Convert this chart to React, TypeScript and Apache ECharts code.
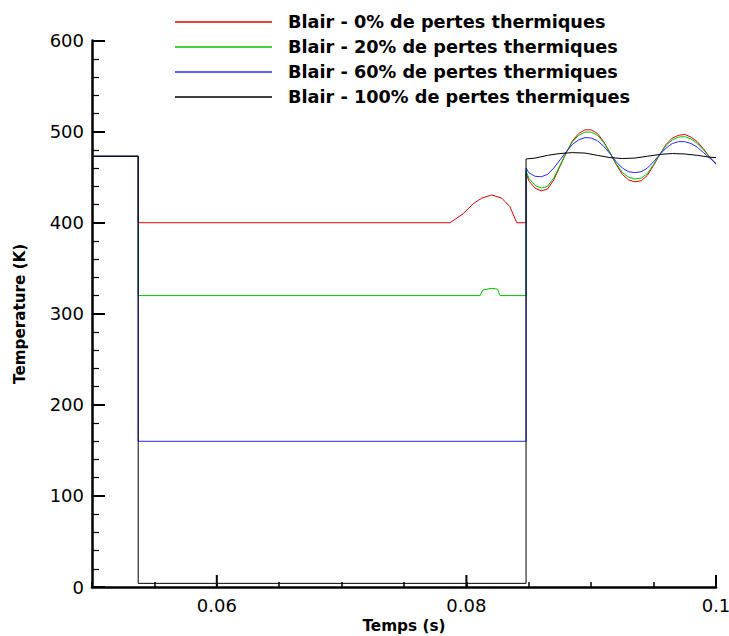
import React, { useEffect, useRef } from "react";
import * as echarts from "echarts";

// ---- data ----
const seriesNames = [
  "Blair - 0% de pertes thermiques",
  "Blair - 20% de pertes thermiques",
  "Blair - 60% de pertes thermiques",
  "Blair - 100% de pertes thermiques",
];
const seriesColors = ["#e00000", "#00c000", "#2a2aff", "#000000"];

const startTime = 0.05;
const initialTemp = 473;
const stepDownTime = 0.0537;
const stepUpTime = 0.08478;

const plateauRed = 400;
const plateauGreen = 320;
const plateauBlue = 160;
const plateauBlack = 4;

const redBumpTimes = [0.07869, 0.07975, 0.08055, 0.08123, 0.08203, 0.08283, 0.08349, 0.08403];
const redBumpTemps = [400, 410, 421, 427, 430.5, 427, 417.6, 400];

const greenBumpTimes = [0.0811, 0.0813, 0.082, 0.0825, 0.0827];
const greenBumpTemps = [320, 326, 328, 327, 320];

const oscTimes = [
  0.08478, 0.085, 0.0855, 0.086, 0.0865, 0.087, 0.0875, 0.088, 0.0885, 0.089, 0.0895,
  0.09, 0.0905, 0.091, 0.0915, 0.092, 0.0925, 0.093, 0.0935, 0.094, 0.0945, 0.095,
  0.0955, 0.096, 0.0965, 0.097, 0.0975, 0.098, 0.0985, 0.099, 0.0995, 0.1,
];
const redOsc = [
  455, 446, 438, 435, 437, 447, 462, 477, 490, 498, 502, 502, 498, 489, 477, 464, 453,
  447, 445, 446, 452, 463, 475, 486, 493, 496, 497, 494, 489, 481, 472, 464,
];
const greenOsc = [
  457, 449, 441, 438, 440, 449, 463, 477, 489, 496, 499.5, 499.5, 496, 488, 477, 465,
  455, 450, 448, 449, 454, 464, 475, 485, 491, 494, 494.5, 492, 487, 480, 472, 465,
];
const blueOsc = [
  460, 455, 451, 450.5, 453, 460, 469, 478, 486, 491, 493.5, 493, 490, 484, 476, 467,
  460, 456, 455, 456, 460, 467, 475, 482, 487, 489, 489, 487, 483, 477, 471, 465,
];
const blackOscTimes = [
  0.08478, 0.0855, 0.0865, 0.0875, 0.0885, 0.0895, 0.0905, 0.0915, 0.0925, 0.0935,
  0.0945, 0.0955, 0.0965, 0.0975, 0.0985, 0.0995, 0.1,
];
const blackOsc = [
  470, 471, 474, 476, 477, 476.5, 474, 471.5, 470.5, 471, 473, 475, 476, 475.5, 474, 472, 471.5,
];

const xMin = 0.05;
const xMax = 0.1;
const xMinorStep = 0.005;
const xMajorTicks = [0.06, 0.08, 0.1];
const yMin = 0;
const yMax = 600;
const yStep = 100;

// ---- build series data ----
const zip = (xs: number[], ys: number[]) => xs.map((x, i) => [x, ys[i]]);

function buildSeries(
  plateau: number,
  bumpT: number[],
  bumpV: number[],
  oscT: number[],
  oscV: number[]
) {
  const d: number[][] = [
    [startTime, initialTemp],
    [stepDownTime, initialTemp],
    [stepDownTime, plateau],
  ];
  d.push(...zip(bumpT, bumpV));
  d.push([stepUpTime, plateau]);
  d.push(...zip(oscT, oscV));
  return d;
}

const redData = buildSeries(plateauRed, redBumpTimes, redBumpTemps, oscTimes, redOsc);
const greenData = buildSeries(plateauGreen, greenBumpTimes, greenBumpTemps, oscTimes, greenOsc);
const blueData = buildSeries(plateauBlue, [], [], oscTimes, blueOsc);
const blackData = buildSeries(plateauBlack, [], [], blackOscTimes, blackOsc);

const FONT = "'DejaVu Sans', 'Liberation Sans', Arial, sans-serif";

export default function App() {
  const ref = useRef<HTMLDivElement>(null);
  useEffect(() => {
    document.body.style.margin = "0";
    if (!ref.current) return;
    const chart = echarts.init(ref.current, null, { renderer: "svg" });
    const lineSeries = [redData, greenData, blueData, blackData].map((data, i) => ({
      name: seriesNames[i],
      type: "line",
      data,
      symbol: "none",
      showSymbol: false,
      smooth: false,
      lineStyle: { color: seriesColors[i], width: 1 },
      itemStyle: { color: seriesColors[i] },
      z: 3 + i,
    }));
    chart.setOption({
      animation: false,
      backgroundColor: "#ffffff",
      textStyle: { fontFamily: FONT },
      grid: {
        left: 92,
        right: 13,
        top: 40.6,
        bottom: 49,
        containLabel: false,
        outerBoundsMode: "none",
      },
      legend: {
        data: seriesNames,
        orient: "vertical",
        left: 170,
        top: 7,
        icon: "rect",
        itemWidth: 97,
        itemHeight: 1.5,
        itemGap: 5,
        selectedMode: false,
        textStyle: {
          fontFamily: FONT,
          fontSize: 17.7,
          fontWeight: "bold",
          color: "#000",
          lineHeight: 20,
          padding: [0, 0, 0, 11],
        },
      },
      xAxis: {
        type: "value",
        min: xMin,
        max: xMax,
        interval: xMinorStep,
        name: "Temps (s)",
        nameLocation: "middle",
        nameGap: 25,
        nameTextStyle: { fontFamily: FONT, fontSize: 15.3, fontWeight: "bold", color: "#000" },
        axisLine: { show: true, onZero: false, lineStyle: { color: "#000", width: 2.5 } },
        axisTick: { show: true, inside: true, length: 5, lineStyle: { color: "#000", width: 1.5 } },
        splitLine: { show: false },
        axisLabel: {
          margin: 9,
          fontFamily: FONT,
          fontSize: 18,
          color: "#000",
          showMinLabel: true,
          showMaxLabel: true,
          formatter: (v: number) => {
            const hit = xMajorTicks.some((m) => Math.abs(m - v) < 1e-6);
            return hit ? String(Number(v.toFixed(3))) : "";
          },
        },
      },
      yAxis: {
        type: "value",
        min: yMin,
        max: yMax,
        interval: yStep,
        name: "Temperature (K)",
        nameLocation: "middle",
        nameGap: 65,
        nameRotate: 90,
        nameTextStyle: { fontFamily: FONT, fontSize: 15.2, fontWeight: "bold", color: "#000" },
        axisLine: { show: true, lineStyle: { color: "#000", width: 2.5 } },
        axisTick: { show: true, inside: true, length: 13, lineStyle: { color: "#000", width: 2 } },
        minorTick: { show: true, splitNumber: 5, length: 7, lineStyle: { color: "#000", width: 1.2 } },
        splitLine: { show: false },
        axisLabel: { margin: 8, fontFamily: FONT, fontSize: 18, color: "#000" },
      },
      series: [
        ...lineSeries,
        {
          type: "custom",
          silent: true,
          clip: false,
          z: 10,
          data: xMajorTicks.map((t) => [t, yMin]),
          renderItem: (params: any, api: any) => {
            const p = api.coord([api.value(0), api.value(1)]);
            return {
              type: "line",
              shape: { x1: p[0], y1: p[1], x2: p[0], y2: p[1] - 12 },
              style: { stroke: "#000", lineWidth: 2 },
            };
          },
        },
      ],
    });
    return () => chart.dispose();
  }, []);
  return <div ref={ref} style={{ width: 729, height: 636 }} />;
}
